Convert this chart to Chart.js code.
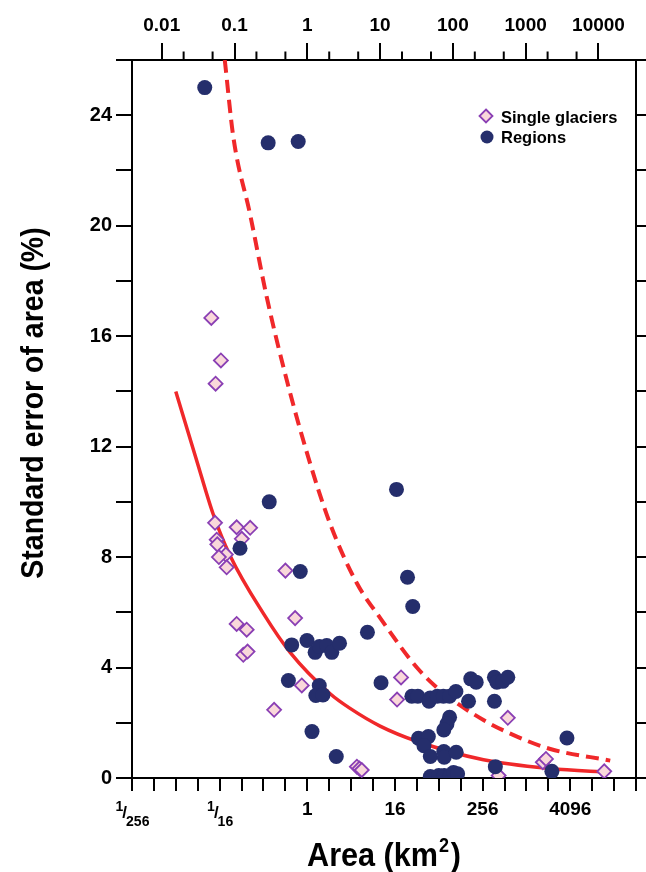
<!DOCTYPE html>
<html><head><meta charset="utf-8">
<script src="https://cdn.jsdelivr.net/npm/chart.js@4.4.1/dist/chart.umd.min.js"></script>
<style>html,body{margin:0;padding:0;background:#fff;}canvas{display:block;}</style>
</head><body>
<canvas id="c" width="646" height="872"></canvas>
<script>
const FONT = '"Liberation Sans", Arial, Helvetica, sans-serif';

// Single glaciers: area (km2) and standard error of area (%)
const glacierArea = [0.048,0.065,0.055,0.054,0.107,0.164,0.057,0.058,0.126,0.076,0.061,0.078,0.50,0.68,0.107,0.147,0.132,0.151,0.84,0.35,4.8,5.2,5.6,19.4,17.1,568,425,1720,1900,12000];
const glacierErr  = [16.66,15.12,14.28,9.24,9.08,9.06,8.63,8.46,8.66,8.09,8.0,7.63,7.51,5.79,5.58,5.37,4.46,4.58,3.35,2.47,0.41,0.34,0.29,3.64,2.84,2.18,0.09,0.57,0.69,0.24];

// Regions: area (km2) and standard error of area (%)
const regionArea = [0.039,0.29,0.75,0.30,0.119,0.80,16.8,23.8,28.1,6.7,0.61,0.99,1.28,1.47,1.85,2.17,2.77,0.55,1.46,1.31,1.64,1.16,2.5,10.3,27.3,33,49,47,61,74,90,110,164,176,209,372,402,485,568,372,3690,90,83,75,33.6,46,40,49,75,76,111,383,49,64,76,92,102,116,2290];
const regionErr  = [25.0,23.0,23.05,10.0,8.32,7.48,10.45,7.27,6.21,5.28,4.82,4.98,4.55,4.76,4.8,4.55,4.88,3.53,3.35,2.99,3.01,1.68,0.78,3.45,2.96,2.96,2.9,2.78,2.96,2.96,2.96,3.13,2.78,3.59,3.47,3.65,3.47,3.5,3.65,2.78,1.45,2.2,1.96,1.74,1.44,1.5,1.17,0.78,0.96,0.75,0.93,0.41,0.05,0.09,0.09,0.09,0.2,0.15,0.24];

// Solid red curve
const fitArea = [0.0156,0.0302,0.051,0.087,0.25,0.58,2.06,3.87,10,32,263,2180,14500];
const fitErr  = [14.0,11.5,9.55,8.05,5.95,4.55,3.05,2.52,1.88,1.33,0.66,0.34,0.2];

// Dashed red curve
const limitArea = [0.0735,0.0965,0.164,0.278,0.523,1.035,2.06,4.8,10,32,74,263,760,2180,14500];
const limitErr  = [26.0,23.2,20.4,17.4,14.4,11.6,9.2,7.05,5.8,4.0,3.08,2.1,1.5,1.05,0.63];

// Axes
const bottomTickExps = [-8,-7,-6,-5,-4,-3,-2,-1,0,1,2,3,4,5,6,7,8,9,10,11,12,13,14,15];
const bottomLabelExps = [-8,-4,0,4,8,12];
const bottomLabels = ['1/256','1/16','1','16','256','4096'];
const topTickValues = [0.01,0.1,1,10,100,1000,10000];
const topTickLabels = ['0.01','0.1','1','10','100','1000','10000'];
const topMinorValues = [0.02,0.05,0.2,0.5,2,5,20,50,200,500,2000,5000];
const yMin = 0, yMax = 26, yStep = 2, yLabelStep = 4;

const RED = '#f0282a';
const NAVY = '#252e6c';
const PINK = '#f9d8da';
const PURPLE = '#8a3fb4';

const pts = (xs, ys) => xs.map((v, i) => ({x: v, y: ys[i]}));

const gridCommon = {drawOnChartArea: false, drawTicks: true, color: '#000', lineWidth: 2, tickColor: '#000', tickWidth: 2};
const borderCommon = {display: true, color: '#000', width: 2};

function drawDiamond(ctx, x, y, r) {
  ctx.beginPath();
  ctx.moveTo(x, y - r); ctx.lineTo(x + r, y); ctx.lineTo(x, y + r); ctx.lineTo(x - r, y); ctx.closePath();
  ctx.fillStyle = PINK; ctx.fill(); ctx.lineWidth = 1.8; ctx.strokeStyle = PURPLE; ctx.stroke();
}

const decor = {
  id: 'decor',
  afterDraw(chart) {
    const ctx = chart.ctx, ca = chart.chartArea;
    const xs = chart.scales.x, x2 = chart.scales.x2;
    ctx.save();
    ctx.fillStyle = '#000';
    ctx.strokeStyle = '#000';
    ctx.lineWidth = 2;
    // top minor ticks
    topMinorValues.forEach(v => {
      const px = x2.getPixelForValue(v);
      ctx.beginPath(); ctx.moveTo(px, ca.top); ctx.lineTo(px, ca.top - 8.5); ctx.stroke();
    });
    // bottom labels
    const base = ca.bottom + 37;
    const big = `bold 19px ${FONT}`, small = `bold 14px ${FONT}`, mid = `bold 17px ${FONT}`;
    ctx.textBaseline = 'alphabetic';
    bottomLabelExps.forEach((e, i) => {
      const px = xs.getPixelForValue(Math.pow(2, e));
      const lab = bottomLabels[i];
      if (lab.indexOf('/') >= 0) {
        const parts = lab.split('/');
        ctx.font = small; const wn = ctx.measureText(parts[0]).width; const wd = ctx.measureText(parts[1]).width;
        ctx.font = mid; const ws = ctx.measureText('/').width;
        const x0 = px - (wn + ws + wd - 3) / 2;
        ctx.textAlign = 'left';
        ctx.font = small; ctx.fillText(parts[0], x0, base - 4);
        ctx.font = mid; ctx.fillText('/', x0 + wn - 1, base + 3);
        ctx.font = small; ctx.fillText(parts[1], x0 + wn + ws - 2, base + 11);
      } else {
        ctx.font = big; ctx.textAlign = 'center';
        ctx.fillText(lab, px, base);
      }
    });
    // x title
    const cx = (ca.left + ca.right) / 2;
    const tf = `bold 34px ${FONT}`, sf = `bold 20px ${FONT}`;
    ctx.font = tf; const w1 = ctx.measureText('Area (km').width, w3 = ctx.measureText(')').width;
    ctx.font = sf; const w2 = ctx.measureText('2').width;
    const tb = 866;
    ctx.save();
    ctx.translate(cx, tb);
    ctx.scale(0.9, 1);
    let tx = -(w1 + w2 + w3 + 3) / 2;
    ctx.textAlign = 'left';
    ctx.font = tf; ctx.fillText('Area (km', tx, 0);
    ctx.font = sf; ctx.fillText('2', tx + w1 + 1, -14);
    ctx.font = tf; ctx.fillText(')', tx + w1 + w2 + 3, 0);
    ctx.restore();
    // y title
    ctx.save();
    ctx.translate(43, 403);
    ctx.rotate(-Math.PI / 2);
    ctx.scale(0.89, 1);
    ctx.font = `bold 32px ${FONT}`;
    ctx.textAlign = 'center';
    ctx.fillText('Standard error of area (%)', 0, 0);
    ctx.restore();
    // legend
    const lx = 486;
    drawDiamond(ctx, lx, 116, 6.5);
    ctx.beginPath(); ctx.arc(lx + 1, 137, 6.5, 0, Math.PI * 2); ctx.fillStyle = NAVY; ctx.fill();
    ctx.fillStyle = '#000';
    ctx.font = `bold 16.5px ${FONT}`; ctx.textAlign = 'left';
    ctx.fillText('Single glaciers', 501, 123);
    ctx.fillText('Regions', 501, 143);
    ctx.restore();
  }
};

new Chart(document.getElementById('c'), {
  type: 'scatter',
  data: {
    datasets: [
      {label: 'fit', data: pts(fitArea, fitErr), showLine: true, borderColor: RED, borderWidth: 3.5, pointRadius: 0, pointHoverRadius: 0, cubicInterpolationMode: 'monotone', fill: false, order: 4},
      {label: 'limit', data: pts(limitArea, limitErr), showLine: true, borderColor: RED, borderWidth: 4, borderDash: [13, 7], pointRadius: 0, pointHoverRadius: 0, cubicInterpolationMode: 'monotone', fill: false, order: 3},
      {label: 'Single glaciers', data: pts(glacierArea, glacierErr), pointStyle: 'rectRot', pointRadius: 7, pointHoverRadius: 7, backgroundColor: PINK, borderColor: PURPLE, borderWidth: 1.8, order: 2},
      {label: 'Regions', data: pts(regionArea, regionErr), pointStyle: 'circle', pointRadius: 7.5, pointHoverRadius: 7.5, backgroundColor: NAVY, borderColor: NAVY, borderWidth: 0, order: 1}
    ]
  },
  options: {
    responsive: false,
    animation: false,
    events: [],
    layout: {padding: 0},
    plugins: {legend: {display: false}, tooltip: {enabled: false}},
    scales: {
      x: {
        type: 'logarithmic', position: 'bottom', min: Math.pow(2, -8), max: Math.pow(2, 15),
        afterBuildTicks: s => { s.ticks = bottomTickExps.map(e => ({value: Math.pow(2, e)})); },
        ticks: {autoSkip: false, maxRotation: 0, minRotation: 0, callback: () => ''},
        grid: Object.assign({}, gridCommon, {tickLength: 13}),
        border: borderCommon,
        afterFit: s => { s.height = 94; }
      },
      x2: {
        type: 'logarithmic', position: 'top', min: Math.pow(2, -8), max: Math.pow(2, 15),
        afterBuildTicks: s => { s.ticks = topTickValues.map(v => ({value: v})); },
        ticks: {autoSkip: false, maxRotation: 0, minRotation: 0, padding: 6, color: '#000',
          font: {family: FONT, size: 19, weight: 'bold'},
          callback: (v, i) => topTickLabels[i]},
        grid: Object.assign({}, gridCommon, {tickLength: 17}),
        border: borderCommon,
        afterFit: s => { s.height = 60; }
      },
      y: {
        type: 'linear', position: 'left', min: yMin, max: yMax,
        ticks: {stepSize: yStep, autoSkip: false, padding: 4, color: '#000',
          font: {family: FONT, size: 20, weight: 'bold'},
          callback: v => (v % yLabelStep === 0 && v < yMax) ? String(v) : ''},
        grid: Object.assign({}, gridCommon, {tickLength: 16}),
        border: borderCommon,
        afterFit: s => { s.width = 132; }
      },
      y2: {
        type: 'linear', position: 'right', min: yMin, max: yMax,
        ticks: {stepSize: yStep, autoSkip: false, padding: 0, callback: () => ''},
        grid: Object.assign({}, gridCommon, {tickLength: 10}),
        border: borderCommon,
        afterFit: s => { s.width = 10; }
      }
    }
  },
  plugins: [decor]
});
</script>
</body></html>
